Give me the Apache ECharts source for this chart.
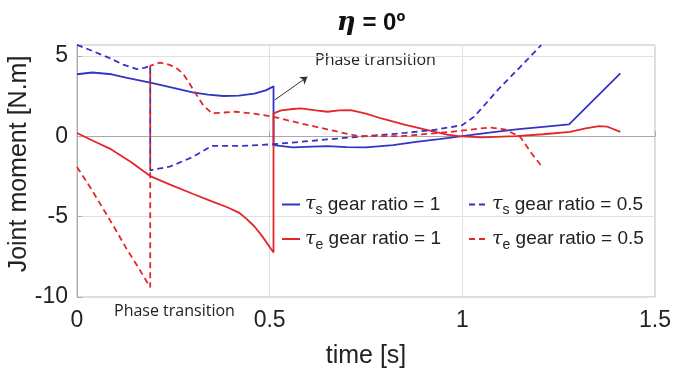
<!DOCTYPE html>
<html>
<head>
<meta charset="utf-8">
<script src="https://cdn.jsdelivr.net/npm/echarts@6/dist/echarts.min.js"></script>
<style>
  html, body { margin: 0; padding: 0; background: #fff; }
  #chart { width: 674px; height: 369px; }
</style>
</head>
<body>
<div id="chart"></div>
<script>
// [time, moment] pairs
const tauS_gr1 = [
  [0, 3.85], [0.04, 3.96], [0.09, 3.85], [0.13, 3.62], [0.19, 3.33], [0.25, 3.0],
  [0.30, 2.72], [0.34, 2.58], [0.38, 2.5], [0.42, 2.52], [0.46, 2.65], [0.49, 2.85],
  [0.51, 3.1], [0.51, -0.56], [0.56, -0.7], [0.61, -0.65], [0.65, -0.62], [0.70, -0.68],
  [0.75, -0.7], [0.82, -0.55], [0.88, -0.35], [0.94, -0.18], [1.0, 0.0], [1.07, 0.22],
  [1.14, 0.42], [1.21, 0.58], [1.277, 0.73], [1.41, 3.9]
];
const tauE_gr1 = [
  [0, 0.2], [0.04, -0.27], [0.085, -0.77], [0.14, -1.6], [0.19, -2.48], [0.24, -3.0],
  [0.30, -3.58], [0.35, -4.05], [0.39, -4.42], [0.42, -4.75], [0.44, -5.14], [0.46, -5.6],
  [0.48, -6.2], [0.51, -7.23], [0.51, 1.42], [0.53, 1.6], [0.56, 1.69], [0.58, 1.73],
  [0.62, 1.6], [0.65, 1.52], [0.68, 1.6], [0.71, 1.62], [0.75, 1.4], [0.79, 1.1],
  [0.85, 0.72], [0.91, 0.38], [0.96, 0.1], [0.99, 0.0], [1.05, -0.08], [1.14, 0.0],
  [1.21, 0.12], [1.28, 0.27], [1.32, 0.48], [1.355, 0.62], [1.375, 0.6], [1.41, 0.27]
];
const tauS_gr05 = [
  [0, 5.68], [0.04, 5.3], [0.085, 4.85], [0.12, 4.45], [0.155, 4.17], [0.175, 4.25],
  [0.19, 4.37], [0.19, -2.12], [0.24, -1.9], [0.30, -1.3], [0.35, -0.6], [0.43, -0.6],
  [0.51, -0.5], [0.58, -0.35], [0.65, -0.2], [0.75, 0.0], [0.85, 0.2], [0.93, 0.4],
  [1.0, 0.69], [1.03, 1.2], [1.06, 2.0], [1.096, 2.98], [1.15, 4.3], [1.205, 5.67]
];
const tauE_gr05 = [
  [0, -1.92], [0.035, -3.2], [0.068, -4.52], [0.1, -5.8], [0.129, -7.02], [0.16, -8.2],
  [0.19, -9.4], [0.19, 4.37], [0.215, 4.58], [0.24, 4.44], [0.26, 4.2], [0.275, 3.9],
  [0.29, 3.35], [0.305, 2.77], [0.327, 1.94], [0.35, 1.42], [0.41, 1.52], [0.46, 1.4],
  [0.51, 1.2], [0.58, 0.8], [0.65, 0.42], [0.73, 0.0], [0.84, 0.0], [0.97, 0.27],
  [1.07, 0.54], [1.11, 0.42], [1.15, -0.04], [1.18, -1.08], [1.206, -1.87]
];
const xTicks = [0, 0.5, 1, 1.5];
const yTicks = [-10, -5, 0, 5];
// annotation arrows in data coords
const arrowTop = [[0.513, 2.25], [0.598, 3.69]];
const arrowBottom = [[0.197, -8.19], [0.259, -10.12]];

const BLUE = '#3434c4';
const RED = '#e3262a';
const axisFont = '"Liberation Sans Narrow", "Liberation Sans", Arial, sans-serif';

const chart = echarts.init(document.getElementById('chart'), null, { renderer: 'canvas' });

const legendRich = {
  t: { fontSize: 19, fontFamily: 'DejaVu Serif', fontStyle: 'italic', color: '#222' },
  s: { fontSize: 14, fontFamily: 'Liberation Sans', color: '#222', padding: [12, 0, 0, 0] },
  n: { fontSize: 19, fontFamily: 'Liberation Sans', color: '#222' }
};
const legendLabel = {
  ts1: '{t|τ}{s|s}{n| gear ratio = 1}',
  te1: '{t|τ}{s|e}{n| gear ratio = 1}',
  ts05: '{t|τ}{s|s}{n| gear ratio = 0.5}',
  te05: '{t|τ}{s|e}{n| gear ratio = 0.5}'
};
const legendBase = {
  orient: 'vertical', top: 190, itemWidth: 18, itemHeight: 10, itemGap: 12,
  itemStyle: { opacity: 0 },
  formatter: n => legendLabel[n], textStyle: { rich: legendRich }
};

function arrowLine(pts) {
  return [{ coord: pts[0], symbol: 'none' }, { coord: pts[1], symbol: 'arrow' }];
}

chart.setOption({
  animation: false,
  title: {
    text: '{eta|η}{b| = 0º}',
    left: 366, top: 5, textAlign: 'center',
    textStyle: {
      rich: {
        eta: { fontSize: 26, fontFamily: 'DejaVu Serif', fontStyle: 'italic', color: '#111' },
        b: { fontSize: 24, fontFamily: 'Liberation Sans', fontWeight: 'bold', color: '#111' }
      }
    }
  },
  grid: {
    left: 77, right: 19, top: 45, bottom: 72, show: true, borderColor: '#bbb', borderWidth: 1,
    containLabel: false, outerBoundsMode: 'none'
  },
  legend: [
    Object.assign({ data: ['ts1', 'te1'], left: 276 }, legendBase),
    Object.assign({ data: ['ts05', 'te05'], left: 463 }, legendBase)
  ],
  xAxis: {
    type: 'value', min: xTicks[0], max: xTicks[xTicks.length - 1], interval: 0.5,
    name: 'time [s]', nameLocation: 'middle', nameGap: 47, nameMoveOverlap: false,
    nameTextStyle: { fontSize: 25, fontFamily: axisFont, color: '#222' },
    axisLine: { lineStyle: { color: '#aaa' } },
    axisTick: { inside: true, lineStyle: { color: '#aaa' } },
    axisLabel: { fontSize: 23, fontFamily: axisFont, color: '#222', margin: 12 },
    splitLine: { lineStyle: { color: '#e0e0e0' } }
  },
  yAxis: {
    type: 'value', min: yTicks[0], max: 5.67, interval: 5,
    name: 'Joint moment [N.m]', nameLocation: 'middle', nameGap: 45, nameMoveOverlap: false,
    nameTextStyle: { fontSize: 25, fontFamily: axisFont, color: '#222', padding: [0, 0, 0, 14] },
    axisLine: { show: true, lineStyle: { color: '#aaa' } },
    axisTick: { inside: true, lineStyle: { color: '#aaa' } },
    axisLabel: {
      fontSize: 23, fontFamily: axisFont, color: '#222', margin: 9,
      formatter: v => (yTicks.includes(v) ? String(v) : '')
    },
    splitLine: { lineStyle: { color: '#e0e0e0' } }
  },
  series: [
    {
      name: 'ts1', type: 'line', data: tauS_gr1, symbol: 'none',
      lineStyle: { color: BLUE, width: 1.8 }, itemStyle: { color: BLUE },
      markLine: {
        silent: true, symbolSize: 7,
        lineStyle: { color: '#333', width: 1, type: 'solid' },
        label: { show: false },
        data: [arrowLine(arrowTop), arrowLine(arrowBottom)]
      }
    },
    {
      name: 'te1', type: 'line', data: tauE_gr1, symbol: 'none',
      lineStyle: { color: RED, width: 1.8 }, itemStyle: { color: RED }
    },
    {
      name: 'ts05', type: 'line', data: tauS_gr05, symbol: 'none',
      lineStyle: { color: BLUE, width: 1.8, type: [6, 4] }, itemStyle: { color: BLUE }
    },
    {
      name: 'te05', type: 'line', data: tauE_gr05, symbol: 'none',
      lineStyle: { color: RED, width: 1.8, type: [6, 4] }, itemStyle: { color: RED }
    }
  ],
  graphic: [
    {
      type: 'text', left: 315, top: 52,
      style: { text: 'Phase transition', fontSize: 16, fontFamily: 'Open Sans', fill: '#222' }
    },
    {
      type: 'text', left: 114, top: 303,
      style: { text: 'Phase transition', fontSize: 16, fontFamily: 'Open Sans', fill: '#222' }
    }
  ]
});
</script>
</body>
</html>
